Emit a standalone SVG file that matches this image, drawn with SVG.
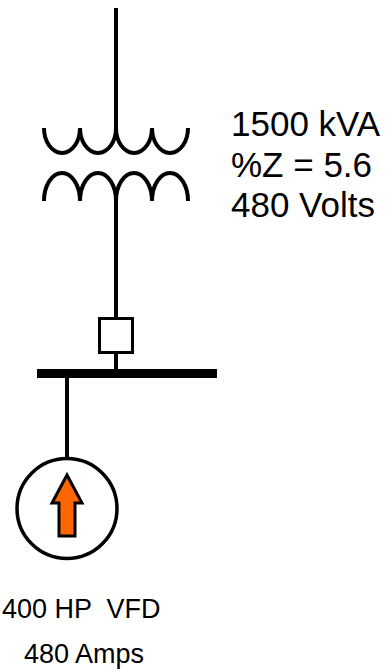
<svg xmlns="http://www.w3.org/2000/svg" width="390" height="671" viewBox="0 0 390 671">
<style>
.ln{stroke:#000;stroke-width:4;fill:none}
.t{font-family:"Liberation Sans",Arial,sans-serif;fill:#000}
</style>
<rect width="390" height="671" fill="#fff"/>
<g id="connectors">
<line class="ln" x1="116" y1="8" x2="116" y2="130"/>
<line class="ln" x1="116" y1="198" x2="116" y2="318"/>
<line class="ln" x1="116" y1="352" x2="116" y2="370"/>
<line class="ln" x1="67" y1="376" x2="67" y2="459"/>
</g>
<g id="transformer">
<path class="ln" d="M44,128 A18,25 0 0 0 80,128 A18,25 0 0 0 116,128 A18,25 0 0 0 152,128 A18,25 0 0 0 188,128"/>
<path class="ln" d="M44,201 A18,28 0 0 1 80,201 A18,28 0 0 1 116,201 A18,28 0 0 1 152,201 A18,28 0 0 1 188,201"/>
</g>
<g id="transformer-label">
<text class="t" x="231" y="136" font-size="35">1500 kVA</text>
<text class="t" x="231" y="177" font-size="35">%Z = 5.6</text>
<text class="t" x="231" y="217" font-size="35">480 Volts</text>
</g>
<g id="breaker">
<rect x="99.5" y="318.5" width="33" height="34" fill="#fff" stroke="#000" stroke-width="3"/>
</g>
<g id="bus">
<rect x="37" y="369" width="180" height="9" fill="#000"/>
</g>
<g id="motor">
<circle cx="67" cy="508.5" r="50" fill="#fff" stroke="#000" stroke-width="3.5"/>
<path d="M67,475 L82,503 L75,503 L75,536 L59,536 L59,503 L52,503 Z" fill="#ff6600" stroke="#000" stroke-width="3" stroke-linejoin="miter"/>
</g>
<g id="motor-label">
<text class="t" x="2" y="618" font-size="27" xml:space="preserve">400 HP  VFD</text>
<text class="t" x="24" y="663" font-size="27">480 Amps</text>
</g>
</svg>
